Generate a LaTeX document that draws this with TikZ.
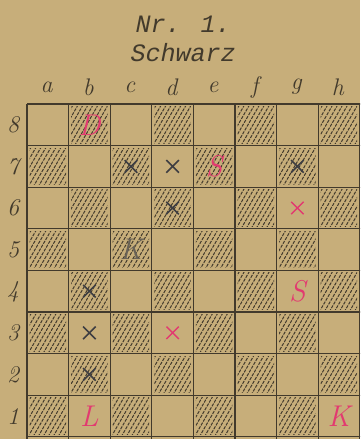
\documentclass[tikz,border=0pt]{standalone}
\usepackage{fontspec}
\newfontfamily\typefont[FakeSlant=0.2]{Liberation Mono}
\usetikzlibrary{positioning,shapes.misc}
\definecolor{paper}{RGB}{199,174,122}
\definecolor{lineink}{RGB}{66,58,44}
\definecolor{redink}{RGB}{226,58,112}
\definecolor{pencil}{RGB}{62,62,66}
\begin{document}
\begin{tikzpicture}[
  x=1pt,y=-1pt,
  gridline/.style={draw=lineink,line width=1.1pt},
  hatch/.style={lineink,line width=1pt,dash pattern=on 3.2pt off 1.2pt},
  title/.style={font=\typefont\fontsize{25}{28}\selectfont,text=lineink},
  label/.style={font=\itshape\fontsize{24}{28}\selectfont,text=lineink},
  redpc/.style={font=\itshape\fontsize{30}{34}\selectfont,text=redink,inner sep=0pt},
  greypc/.style={redpc,text=lineink!80},
  xmark/.style={cross out,draw=pencil,minimum size=11pt,inner sep=0pt,line width=1.6pt},
  rxmark/.style={xmark,draw=redink,line width=1.4pt},
]
\useasboundingbox[fill=paper] (0,0) rectangle (360,439);
\clip (0,0) rectangle (360,439);

% squares, named a1 .. h8
\foreach \f [count=\i] in {a,b,c,d,e,f,g,h}{
  \foreach \r in {1,...,8}{
    \coordinate (\f\r) at ({27+41.6*\i-20.8},{104+41.6*(8-\r)+20.8});
  }
}

% hatched (dark) squares
\foreach \f [count=\i] in {a,b,c,d,e,f,g,h}{
  \foreach \r in {1,...,8}{
    \pgfmathtruncatemacro\dk{mod(\i+\r,2)}
    \ifnum\dk=0
      \pgfmathsetmacro\xo{27+41.6*(\i-1)}
      \pgfmathsetmacro\yo{104+41.6*(8-\r)}
      \begin{scope}
        \clip (\xo+2.5,\yo+2.5) rectangle (\xo+39,\yo+39);
        \foreach \k in {-24,-19,...,42}
          \draw[hatch] (\xo+\k,\yo+41.6) -- ++(24,-41.6);
      \end{scope}
    \fi
  }
}

% board lines
\foreach \n in {0,...,8}{
  \draw[gridline] ({27+41.6*\n},104) -- ({27+41.6*\n},440);
  \draw[gridline] (27,{104+41.6*\n}) -- (361,{104+41.6*\n});
}

% title
\node[title] (nr) at (182,24) {Nr. 1.};
\node[title,below=4pt of nr] (side) {Schwarz};

% files and ranks
\foreach \f [count=\i] in {a,b,c,d,e,f,g,h}
  \node[label] (file-\f) at ({27+41.6*\i-22},87) {\f};
\foreach \r in {1,...,8}
  \node[label] (rank-\r) at (13,{104+41.6*(8-\r)+21}) {\r};

% pieces
\node[redpc] (D-b8) at (b8) {D};
\node[redpc] (S-e7) at (e7) {S};
\node[greypc] (K-c5) at (c5) {K};
\node[redpc] (S-g4) at (g4) {S};
\node[redpc] (L-b1) at (b1) {L};
\node[redpc] (K-h1) at (h1) {K};

% marked squares
\foreach \s in {c7,d7,g7,d6,b4,b3,b2}
  \node[xmark] (x-\s) at (\s) {};
\foreach \s in {g6,d3}
  \node[rxmark] (x-\s) at (\s) {};
\end{tikzpicture}
\end{document}
